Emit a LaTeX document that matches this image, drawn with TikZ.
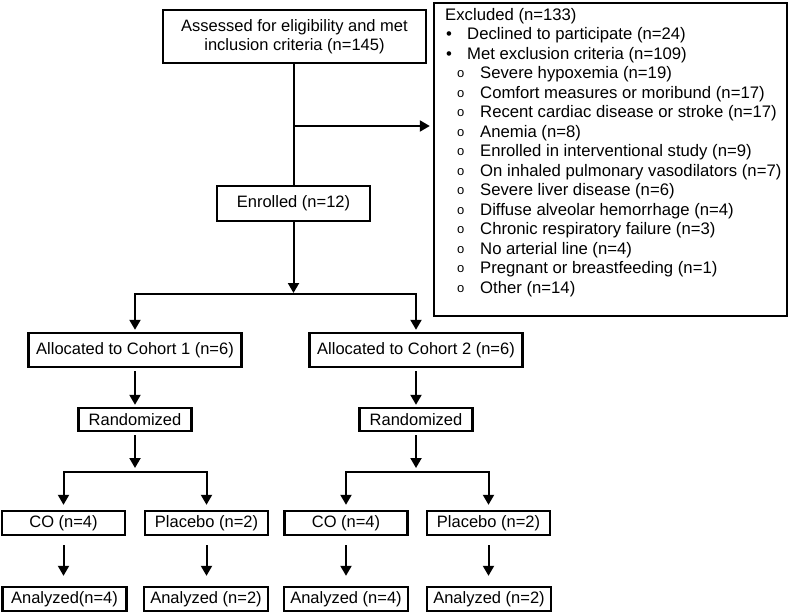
\documentclass[tikz,border=0pt]{standalone}
\usepackage{fontspec}
\setmainfont{Liberation Sans}
\usetikzlibrary{arrows.meta}
\tikzstyle{block}=[draw,line width=2.4pt,fill=white,inner sep=0pt,align=center,font=\fontsize{16.5}{19.5}\selectfont]
\tikzstyle{arrow}=[draw,line width=2pt,-{Triangle[length=10pt,width=11pt]}]
\tikzstyle{twoarrow}=[draw,line width=2pt,{Triangle[length=10pt,width=11pt]}-{Triangle[length=10pt,width=11pt]}]
\tikzstyle{line}=[draw,line width=2pt]
\newcommand{\lvlone}{\hspace*{1pt}\makebox[21pt][l]{•}}
\newcommand{\lvltwo}{\hspace*{12pt}\makebox[23pt][l]{\raisebox{1pt}{\fontsize{13}{19.5}\selectfont o}}}

\begin{document}
\begin{tikzpicture}[x=1pt,y=-1pt]
    \useasboundingbox (0,0) rectangle (791,613);
    \node[block,minimum width=263pt,minimum height=53pt] (assess) at (294.5,36.5) {Assessed for eligibility and met\\inclusion criteria (n=145)};
    \node[block,minimum width=153pt,minimum height=35pt] (enrol) at (293.5,203.5) {Enrolled (n=12)};
    \node[block,minimum width=353pt,minimum height=313pt] (excl) at (610.5,159.5) {};
    \node[anchor=north west,inner sep=0pt,align=left,font=\fontsize{16.7}{19.5}\selectfont] (excllist) at (445,8) {Excluded (n=133)\\
        \lvlone Declined to participate (n=24)\\
        \lvlone Met exclusion criteria (n=109)\\
        \lvltwo Severe hypoxemia (n=19)\\
        \lvltwo Comfort measures or moribund (n=17)\\
        \lvltwo Recent cardiac disease or stroke (n=17)\\
        \lvltwo Anemia (n=8)\\
        \lvltwo Enrolled in interventional study (n=9)\\
        \lvltwo On inhaled pulmonary vasodilators (n=7)\\
        \lvltwo Severe liver disease (n=6)\\
        \lvltwo Diffuse alveolar hemorrhage (n=4)\\
        \lvltwo Chronic respiratory failure (n=3)\\
        \lvltwo No arterial line (n=4)\\
        \lvltwo Pregnant or breastfeeding (n=1)\\
        \lvltwo Other (n=14)};
    \foreach \pos/\name/\num in {{(135,350)/alloc1/1}, {(416,350)/alloc2/2}}
        \node[block,minimum width=213pt,minimum height=34pt] (\name) at \pos {Allocated to Cohort \num{} (n=6)};
    \foreach \pos/\name in {{(135,419.5)/rand1}, {(416,419.5)/rand2}}
        \node[block,minimum width=113pt,minimum height=23pt] (\name) at \pos {Randomized};
    \foreach \pos/\name/\txt in {{(63.5,523)/co1/CO (n=4)}, {(206.5,523)/pla1/Placebo (n=2)}, {(346,523)/co2/CO (n=4)}, {(488.5,523)/pla2/Placebo (n=2)}}
        \node[block,minimum width=123pt,minimum height=24pt] (\name) at \pos {\txt};
    \foreach \pos/\name/\txt in {{(64.5,599)/ana1/Analyzed(n=4)}, {(206,599)/ana2/Analyzed (n=2)}, {(346,599)/ana3/Analyzed (n=4)}, {(489,599)/ana4/Analyzed (n=2)}}
        \node[block,minimum width=124pt,minimum height=24pt] (\name) at \pos {\txt};
    \coordinate (brk) at (enrol.north |- 0,126);
    \coordinate (split0) at (enrol.south |- 0,294);
    \coordinate (split1) at (rand1.south |- 0,472);
    \coordinate (split2) at (rand2.south |- 0,472);
    \path[line] (enrol.north |- assess.south) -- (enrol.north);
    \path[arrow,shorten >=3pt] (brk) -- (brk -| excl.west);
    \path[arrow,shorten >=1pt] (enrol.south) -- (split0);
    \path[twoarrow,shorten <=2pt,shorten >=2pt] (alloc1.north) -- (alloc1.north |- split0) -- (alloc2.north |- split0) -- (alloc2.north);
    \foreach \source/\dest in {alloc1/rand1, alloc2/rand2}
        \path[arrow,shorten <=3pt,shorten >=2pt] (\source.south) -- (\source.south |- \dest.north);
    \path[arrow,shorten <=3pt,shorten >=4pt] (rand1.south) -- (split1);
    \path[arrow,shorten <=3pt,shorten >=4pt] (rand2.south) -- (split2);
    \path[twoarrow,shorten <=5pt,shorten >=5pt] (co1.north) -- (co1.north |- split1) -- (pla1.north |- split1) -- (pla1.north);
    \path[twoarrow,shorten <=5pt,shorten >=5pt] (co2.north) -- (co2.north |- split2) -- (pla2.north |- split2) -- (pla2.north);
    \foreach \source/\dest in {co1/ana1, pla1/ana2, co2/ana3, pla2/ana4}
        \path[arrow,shorten <=9pt,shorten >=10pt] (\source.south) -- (\source.south |- \dest.north);
\end{tikzpicture}
\end{document}
